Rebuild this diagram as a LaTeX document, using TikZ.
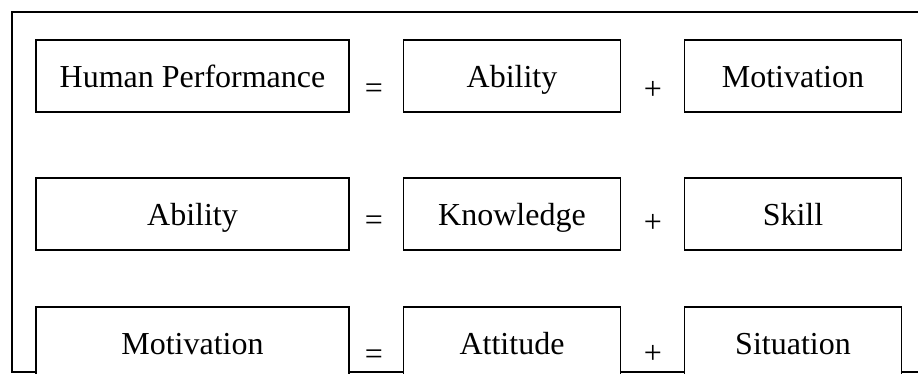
\documentclass[tikz,border=0pt]{standalone}
\usepackage{fontspec}
\setmainfont{Liberation Serif}
\begin{document}
\begin{tikzpicture}[x=1pt, y=-1pt,
  term/.style={draw, line width=1.3pt, fill=white, inner sep=0pt,
    minimum height=72pt, font=\fontsize{32}{36}\selectfont,
    text height=23pt, text depth=1pt},
  wide/.style={term, minimum width=313pt},
  narrow/.style={term, minimum width=217pt},
  op/.style={inner sep=0pt, anchor=base, font=\fontsize{32}{36}\selectfont}]
  \useasboundingbox (0,0) rectangle (918,373);
  \clip (0,0) rectangle (918,373);

  % open frame around the three equations
  \coordinate (ftr) at (930,12);
  \coordinate (fbl) at (12,372);
  \coordinate (fbr) at (930,372);
  \draw[line width=1.3pt] (ftr) -| (fbl) -- (fbr);

  % first equation
  \node[wide]   (hp)   at (192.5,76) {Human Performance};
  \node[op]     (eq1)  at (374,98)   {=};
  \node[narrow] (ab1)  at (512,76)   {Ability};
  \node[op]     (pl1)  at (653,99)   {+};
  \node[narrow] (mo1)  at (793,76)   {Motivation};

  % second equation
  \node[wide]   (ab2)  at (192.5,214) {Ability};
  \node[op]     (eq2)  at (374,230)   {=};
  \node[narrow] (kn)   at (512,214)   {Knowledge};
  \node[op]     (pl2)  at (653,232)   {+};
  \node[narrow] (sk)   at (793,214)   {Skill};

  % third equation
  \node[wide]   (mo2)  at (192.5,343) {Motivation};
  \node[op]     (eq3)  at (374,364)   {=};
  \node[narrow] (at)   at (512,343)   {Attitude};
  \node[op]     (pl3)  at (653,363)   {+};
  \node[narrow] (si)   at (793,343)   {Situation};
\end{tikzpicture}
\end{document}
